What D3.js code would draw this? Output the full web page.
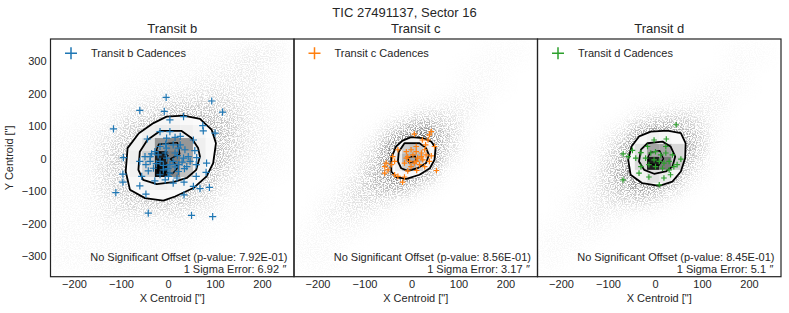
<!DOCTYPE html>
<html>
<head>
<meta charset="utf-8">
<script src="https://cdn.jsdelivr.net/npm/d3@7"></script>
<style>
body{margin:0;background:#fff;}
text{font-family:"Liberation Sans",Arial,sans-serif;fill:#262626;}
</style>
</head>
<body>
<div id="content"></div>
<script>
//chart data
var figTitle     = "TIC 27491137, Sector 16";
var panelTitles  = ["Transit b", "Transit c", "Transit d"];
var legendLabels = ["Transit b Cadences", "Transit c Cadences", "Transit d Cadences"];
var pValues      = ["7.92E-01", "8.56E-01", "8.45E-01"];
var sigmaErrors  = ["6.92", "3.17", "5.1"];
var xTicks = [-200, -100, 0, 100, 200];
var yTicks = [-300, -200, -100, 0, 100, 200, 300];

//out of transit cloud, point density per 50" cell (rows top to bottom)
var hazeX = [-225, -175, -125, -75, -25, 25, 75, 125, 175, 225];
var hazeY = [325, 275, 225, 175, 125, 75, 25, -25, -75, -125, -175, -225, -275, -325];
var hazeB = [
  [0,0,0,0,0,1,1,1,2,2],
  [0,0,0,0,1,1,1,2,2,1],
  [0,0,0,1,1,1,2,2,2,1],
  [0,0,1,1,2,3,3,3,2,1],
  [0,1,1,3,4,5,5,4,2,1],
  [1,1,2,4,6,6,6,4,2,1],
  [1,1,3,5,7,7,6,4,2,1],
  [1,1,3,5,7,7,6,3,1,1],
  [1,1,3,5,6,6,4,2,1,0],
  [1,1,2,4,4,4,3,1,1,0],
  [1,1,2,2,2,2,1,1,0,0],
  [1,1,1,1,1,1,1,0,0,0],
  [1,1,1,1,1,1,0,0,0,0],
  [1,1,1,1,0,0,0,0,0,0]];
var hazeC = [
  [0,0,0,0,0,0,0,0,1,1],
  [0,0,0,0,0,0,0,1,1,0],
  [0,0,0,0,0,0,0,1,1,0],
  [0,0,0,0,0,0,1,2,0,0],
  [0,0,0,0,1,3,3,1,0,0],
  [0,0,0,1,5,8,4,0,0,0],
  [0,0,0,3,9,9,3,0,0,0],
  [0,0,1,4,9,7,1,0,0,0],
  [0,0,2,5,6,2,0,0,0,0],
  [0,1,3,3,1,0,0,0,0,0],
  [0,2,2,1,0,0,0,0,0,0],
  [1,1,1,0,0,0,0,0,0,0],
  [1,1,0,0,0,0,0,0,0,0],
  [1,1,0,0,0,0,0,0,0,0]];
var hazeD = [
  [0,0,0,0,0,0,0,0,1,1],
  [0,0,0,0,0,0,0,0,1,0],
  [0,0,0,0,0,0,0,1,1,0],
  [0,0,0,0,0,0,1,2,0,0],
  [0,0,0,0,2,3,3,1,0,0],
  [0,0,0,2,6,7,5,1,0,0],
  [0,0,1,4,9,9,5,0,0,0],
  [0,0,1,5,9,8,3,0,0,0],
  [0,0,2,5,7,5,1,0,0,0],
  [0,1,2,3,3,1,0,0,0,0],
  [0,1,2,1,0,0,0,0,0,0],
  [1,1,1,0,0,0,0,0,0,0],
  [1,1,0,0,0,0,0,0,0,0],
  [1,0,0,0,0,0,0,0,0,0]];

//2d histograms inside the contours (rows top to bottom)
var histBx = [-109, -82, -55, -28, -1, 26, 53, 80, 107];
var histBy = [144, 104, 64, 24, -16, -56, -96, -136];
var histB = [
  [0, 3, 5, 7, 8, 5, 3, 0],
  [3, 6, 12, 15, 15, 12, 8, 3],
  [5, 10, 20, 50, 55, 50, 12, 5],
  [5, 12, 30, 90, 60, 45, 12, 4],
  [4, 10, 25, 95, 55, 35, 10, 3],
  [3, 6, 10, 12, 10, 8, 5, 0],
  [0, 3, 5, 5, 4, 3, 0, 0]];
var histCx = [-50, -35, -20, -5, 10, 25, 40, 55];
var histCy = [70, 43, 16, -11, -38, -65];
var histC = [
  [3, 5, 8, 8, 6, 4, 2],
  [5, 10, 30, 35, 30, 12, 4],
  [6, 15, 40, 45, 40, 15, 5],
  [4, 12, 30, 40, 25, 8, 3],
  [2, 4, 6, 6, 4, 2, 0]];
var histDx = [-68, -43, -17, 9, 35, 61, 87];
var histDy = [86, 46, 6, -34, -74, -114];
var histD = [
  [3, 6, 10, 8, 5, 2],
  [6, 20, 45, 45, 25, 5],
  [6, 25, 90, 60, 30, 5],
  [4, 10, 20, 15, 8, 3],
  [1, 3, 5, 4, 2, 1]];

//contour levels: outer, inner, core
var contourB = [
  [[-3,130],[33,133],[68,123],[93,89],[102,48],[96,-13],[82,-54],[54,-90],[15,-116],[-10,-129],[-49,-121],[-81,-95],[-90,-39],[-86,33],[-62,79],[-31,110]],
  [[-17,86],[29,86],[50,64],[64,33],[68,7],[60,-34],[40,-59],[11,-72],[-24,-78],[-53,-65],[-63,-34],[-60,22],[-44,58]],
  [[-20,45],[20,50],[25,15],[5,0],[22,-25],[10,-45],[-22,-40],[-18,-5],[0,10],[-25,25]]];
var contourC = [
  [[-1,67],[24,64],[42,53],[51,33],[49,-3],[39,-29],[17,-49],[-11,-62],[-33,-56],[-43,-39],[-43,2],[-33,38],[-19,56]],
  [[-15,48],[17,48],[31,33],[37,12],[31,-13],[13,-29],[-8,-37],[-22,-29],[-29,-8],[-27,22]],
  [[-8,5],[8,8],[10,-8],[-5,-12]]];
var contourD = [
  [[-9,84],[26,87],[55,79],[65,48],[64,2],[55,-39],[37,-70],[9,-83],[-27,-75],[-52,-49],[-57,-3],[-50,38],[-34,69]],
  [[-16,48],[16,53],[33,38],[43,7],[37,-24],[23,-39],[-2,-46],[-23,-34],[-34,-8],[-30,28]],
  [[-10,20],[10,25],[18,0],[8,-20],[-12,-15],[-15,5]]];

//in transit cadences [x, y] in arcsec
var cadB = [[-4,189],[93,178],[-60,149],[-8,146],[116,144],[4,120],[33,130],[-116,92],[74,102],[75,86],
  [100,79],[-17,84],[4,84],[26,69],[-44,61],[-3,64],[15,66],[54,58],[-95,4],[-96,-47],
  [-96,-72],[-111,-104],[-60,-83],[-47,-109],[34,-111],[54,-85],[68,-92],[88,-88],[82,-13],[81,-42],
  [60,-54],[-42,-167],[50,-174],[95,-178],[57,25],[61,4],[60,-18],[-56,-54],[-28,-68],[-6,-65],
  [11,-75],[34,-72],[19,-59],[-49,7],[-38,7],[-47,-18],[-42,-37],[-31,-29],[-17,38],[-3,33],
  [11,43],[26,43],[36,28],[43,7],[47,-8],[40,-24],[22,-39],[4,-44],[-10,-34],[-17,-8],
  [-21,12],[-3,2],[11,-8],[4,-18],[15,18],[-28,22],[-38,-8],[22,-18],[33,2],[-60,-8],
  [22,33],[-6,18],[-17,-49],[1,-54],[-10,-20],[0,-30],[-25,-15],[15,-25],[30,-10],[-5,45],
  [20,10],[35,-30],[-35,15]];
var cadC = [[6,76],[42,84],[38,74],[23,58],[35,58],[49,38],[-29,28],[-54,-13],[-57,-24],[-50,-34],
  [-57,-44],[-36,-49],[-29,-54],[-15,-56],[-19,-72],[53,-36],[42,9],[38,-8],[28,-24],[11,-36],
  [-8,-37],[-40,7],[-36,-8],[-43,-18],[30,43],[10,38],[-11,22],[-1,28],[10,22],[21,18],
  [28,28],[-8,7],[3,12],[13,2],[24,-3],[-4,-8],[6,-13],[17,-18],[-15,-13],[-1,-24],
  [31,12],[-11,2],[10,-8],[21,7]];
var cadD = [[45,105],[24,61],[-2,58],[-16,38],[-48,26],[-68,15],[-57,7],[-30,19],[55,-1],[40,-24],
  [30,-34],[33,-49],[19,-59],[9,-80],[-13,-56],[-34,-44],[-68,-65],[-30,-24],[-41,2],[47,-18],
  [-9,18],[1,22],[12,12],[23,18],[-2,-3],[9,-8],[19,-13],[-13,-18],[1,-24],[16,-29],
  [30,-8],[-20,2],[23,38],[37,12]];

//layout
var panelLeft = [50.5, 294, 537.5];
var panelW    = 243.5;
var plotTop   = 39;
var plotBot   = 276.7;
var colors    = ['#1f77b4', '#ff7f0e', '#2ca02c'];
var crossArm  = [3.6, 2.8, 2.8];
var edgeColor = '#222';

var hazeGrids = [hazeB, hazeC, hazeD];
var histXs = [histBx, histCx, histDx], histYs = [histBy, histCy, histDy], hists = [histB, histC, histD];
var contours = [contourB, contourC, contourD];
var cadences = [cadB, cadC, cadD];

var svg = d3.select("#content").append("svg")
    .attr("width", 789).attr("height", 313);
var defs = svg.append("defs");

//speckled haze: blurred density times a fine grain
var f = defs.append("filter").attr("id", "haze")
    .attr("filterUnits", "userSpaceOnUse")
    .attr("x", 0).attr("y", 0).attr("width", 789).attr("height", 313);
f.append("feGaussianBlur").attr("in", "SourceGraphic").attr("stdDeviation", 9).attr("result", "b");
f.append("feTurbulence").attr("type", "fractalNoise").attr("baseFrequency", 0.85)
    .attr("numOctaves", 2).attr("seed", 7).attr("result", "n");
f.append("feColorMatrix").attr("in", "n").attr("type", "matrix")
    .attr("values", "0 0 0 0 0  0 0 0 0 0  0 0 0 0 0  0 0 0 6 -2.6").attr("result", "m");
f.append("feComposite").attr("in", "b").attr("in2", "m").attr("operator", "arithmetic")
    .attr("k1", 1).attr("k2", 0).attr("k3", 0).attr("k4", 0);

var y = d3.scaleLinear().domain([-363, 369]).range([plotBot, plotTop]);
var grey = d3.scaleSequential(d3.interpolateGreys).domain([0, 100]);
var hazeOpacity = d3.scalePow().exponent(1.5).domain([0, 9]).range([0, 0.75]);

panelLeft.forEach(function(L, i){
    var x = d3.scaleLinear().domain([-250, 268]).range([L, L + panelW]);
    var line = d3.line().x(function(d){ return x(d[0]); }).y(function(d){ return y(d[1]); })
        .curve(d3.curveLinearClosed);

    defs.append("clipPath").attr("id", "panel" + i).append("rect")
        .attr("x", L).attr("y", plotTop).attr("width", panelW).attr("height", plotBot - plotTop);
    defs.append("clipPath").attr("id", "outer" + i).append("path")
        .attr("d", line(contours[i][0]));

    var g = svg.append("g").attr("clip-path", "url(#panel" + i + ")");

    //out of transit cloud
    var hz = g.append("g").attr("filter", "url(#haze)");
    hazeGrids[i].forEach(function(row, r){
        row.forEach(function(v, c){
            if (!v) return;
            hz.append("rect")
                .attr("x", x(hazeX[c] - 25)).attr("y", y(hazeY[r] + 25))
                .attr("width", x(hazeX[c] + 25) - x(hazeX[c] - 25))
                .attr("height", y(hazeY[r] - 25) - y(hazeY[r] + 25))
                .attr("fill", "#000").attr("fill-opacity", hazeOpacity(v));
        });
    });

    //inside the outer contour: histogram
    g.append("path").attr("d", line(contours[i][0])).attr("fill", "#fff");
    var hg = g.append("g").attr("clip-path", "url(#outer" + i + ")");
    var hx = histXs[i], hy = histYs[i];
    hists[i].forEach(function(row, r){
        row.forEach(function(v, c){
            hg.append("rect")
                .attr("x", x(hx[c])).attr("y", y(hy[r]))
                .attr("width", x(hx[c + 1]) - x(hx[c]) + 0.3)
                .attr("height", y(hy[r + 1]) - y(hy[r]) + 0.3)
                .attr("fill", grey(v));
        });
    });

    //contours
    contours[i].forEach(function(c, k){
        g.append("path").attr("d", line(c)).attr("fill", "none")
            .attr("stroke", "#000").attr("stroke-width", k == 2 ? 1.4 : 1.8)
            .attr("stroke-linejoin", "round");
    });

    //cadences
    var a = crossArm[i];
    g.selectAll(".cad" + i).data(cadences[i]).enter().append("path")
        .attr("transform", function(d){ return "translate(" + x(d[0]) + "," + y(d[1]) + ")"; })
        .attr("d", "M" + (-a) + ",0H" + a + "M0," + (-a) + "V" + a)
        .attr("stroke", colors[i]).attr("stroke-width", 1.2).attr("fill", "none");

    //legend
    svg.append("path").attr("transform", "translate(" + (L + 20.5) + ",53.3)")
        .attr("d", "M-6,0H6M0,-6V6").attr("stroke", colors[i]).attr("stroke-width", 1.5);
    svg.append("text").attr("x", L + 40.5).attr("y", 57).attr("font-size", "11px")
        .text(legendLabels[i]);

    //annotation
    svg.append("text").attr("x", L + panelW - 6.5).attr("y", 261).attr("font-size", "11px")
        .attr("text-anchor", "end")
        .text("No Significant Offset (p-value: " + pValues[i] + ")");
    var t2 = svg.append("text").attr("x", L + panelW - 8).attr("y", 273).attr("font-size", "11px")
        .attr("text-anchor", "end");
    t2.append("tspan").text("1 Sigma Error: " + sigmaErrors[i] + " ");
    t2.append("tspan").attr("font-style", "italic").text("\u2033");

    //frame
    svg.append("rect").attr("x", L).attr("y", plotTop).attr("width", panelW).attr("height", plotBot - plotTop)
        .attr("fill", "none").attr("stroke", edgeColor).attr("stroke-width", 1.2);

    //x axis
    var ax = svg.append("g").attr("transform", "translate(0," + (plotBot + 3) + ")")
        .call(d3.axisBottom(x).tickValues(xTicks).tickSize(0).tickPadding(0));
    ax.select(".domain").remove();
    ax.selectAll("text").attr("font-size", "11px").attr("font-family", null).attr("fill", "#262626")
        .attr("dy", "0.71em");
    svg.append("text").attr("x", L + panelW / 2).attr("y", 302).attr("text-anchor", "middle")
        .attr("font-size", "11px").text("X Centroid [\"]");

    svg.append("text").attr("x", L + panelW / 2).attr("y", 32.5).attr("text-anchor", "middle")
        .attr("font-size", "13px").text(panelTitles[i]);

    if (i == 0) {
        var ay = svg.append("g").attr("transform", "translate(" + (L - 4) + ",0)")
            .call(d3.axisLeft(y).tickValues(yTicks).tickSize(0).tickPadding(0));
        ay.select(".domain").remove();
        ay.selectAll("text").attr("font-size", "11px").attr("font-family", null).attr("fill", "#262626");
        svg.append("text").attr("transform", "translate(13," + ((plotTop + plotBot) / 2) + ") rotate(-90)")
            .attr("text-anchor", "middle").attr("font-size", "11px").text("Y Centroid [\"]");
    }
});

svg.append("text").attr("x", 404.5).attr("y", 17.3).attr("text-anchor", "middle")
    .attr("font-size", "13px").text(figTitle);
</script>
</body>
</html>
